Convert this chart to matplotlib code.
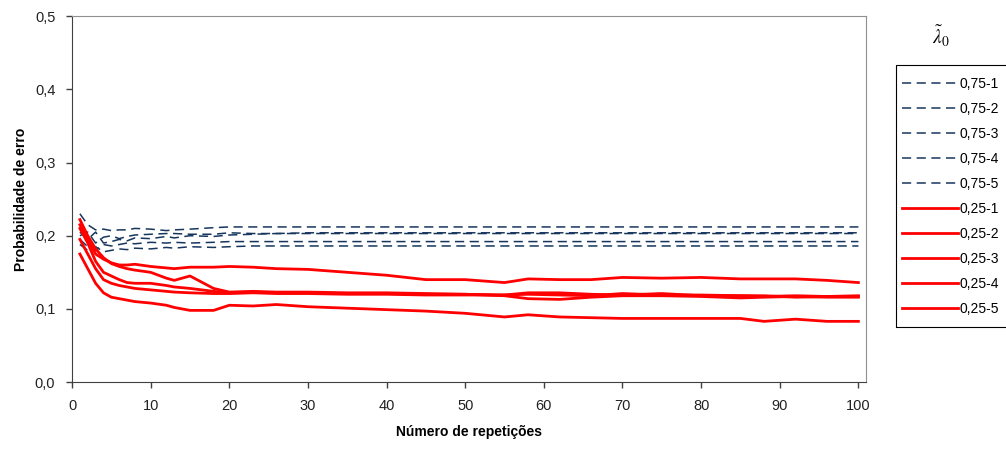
import matplotlib.pyplot as plt
from matplotlib.patches import Rectangle
from matplotlib.ticker import FuncFormatter

plt.rcParams['font.family'] = ['Liberation Sans', 'DejaVu Sans']

# DATA
# ############################################################################
REPS = [1, 2, 3, 4, 5, 6, 7, 8, 10, 12, 13, 15, 18, 20, 23, 26, 30, 35, 40,
        45, 50, 55, 58, 62, 66, 70, 75, 80, 85, 88, 92, 96, 100]

# lambda_0 = 0.75 (dashed)
L75_1 = [0.230, 0.215, 0.208, 0.209, 0.207, 0.208, 0.208, 0.210, 0.209,
         0.207, 0.208, 0.209, 0.211, 0.212, 0.212, 0.212, 0.212, 0.212,
         0.212, 0.212, 0.212, 0.212, 0.212, 0.212, 0.212, 0.212, 0.212,
         0.212, 0.212, 0.212, 0.212, 0.212, 0.212]
L75_2 = [0.205, 0.195, 0.205, 0.190, 0.192, 0.195, 0.193, 0.197, 0.196,
         0.199, 0.197, 0.200, 0.199, 0.201, 0.202, 0.203, 0.203, 0.203,
         0.203, 0.203, 0.203, 0.203, 0.203, 0.203, 0.203, 0.203, 0.203,
         0.203, 0.203, 0.203, 0.203, 0.203, 0.203]
L75_3 = [0.200, 0.205, 0.190, 0.198, 0.200, 0.196, 0.199, 0.201, 0.202,
         0.203, 0.203, 0.202, 0.202, 0.204, 0.203, 0.203, 0.204, 0.204,
         0.204, 0.204, 0.204, 0.204, 0.204, 0.204, 0.204, 0.204, 0.204,
         0.204, 0.204, 0.204, 0.204, 0.204, 0.204]
L75_4 = [0.195, 0.185, 0.180, 0.188, 0.186, 0.188, 0.190, 0.189, 0.191,
         0.190, 0.191, 0.190, 0.191, 0.192, 0.192, 0.192, 0.192, 0.192,
         0.192, 0.192, 0.192, 0.192, 0.192, 0.192, 0.192, 0.192, 0.192,
         0.192, 0.192, 0.192, 0.192, 0.192, 0.192]
L75_5 = [0.188, 0.180, 0.185, 0.178, 0.180, 0.182, 0.181, 0.183, 0.182,
         0.184, 0.183, 0.185, 0.184, 0.185, 0.186, 0.186, 0.186, 0.186,
         0.186, 0.186, 0.186, 0.186, 0.186, 0.186, 0.186, 0.186, 0.186,
         0.186, 0.186, 0.186, 0.186, 0.186, 0.186]

# lambda_0 = 0.25 (solid)
L25_1 = [0.215, 0.195, 0.175, 0.168, 0.163, 0.160, 0.160, 0.161, 0.158,
         0.156, 0.155, 0.157, 0.157, 0.158, 0.157, 0.155, 0.154, 0.150,
         0.146, 0.140, 0.140, 0.136, 0.141, 0.140, 0.140, 0.143, 0.142,
         0.143, 0.141, 0.141, 0.141, 0.139, 0.136]
L25_2 = [0.222, 0.200, 0.182, 0.170, 0.162, 0.158, 0.155, 0.153, 0.150,
         0.142, 0.139, 0.145, 0.128, 0.123, 0.124, 0.123, 0.123, 0.122,
         0.122, 0.121, 0.120, 0.119, 0.122, 0.122, 0.120, 0.119, 0.121,
         0.118, 0.118, 0.117, 0.118, 0.117, 0.118]
L25_3 = [0.210, 0.190, 0.165, 0.150, 0.145, 0.140, 0.136, 0.135, 0.135,
         0.132, 0.130, 0.128, 0.124, 0.122, 0.123, 0.122, 0.122, 0.121,
         0.121, 0.120, 0.120, 0.118, 0.114, 0.113, 0.116, 0.118, 0.118,
         0.117, 0.115, 0.116, 0.117, 0.116, 0.116]
L25_4 = [0.195, 0.175, 0.155, 0.140, 0.135, 0.132, 0.130, 0.128, 0.126,
         0.124, 0.123, 0.122, 0.121, 0.121, 0.122, 0.121, 0.121, 0.120,
         0.120, 0.119, 0.119, 0.119, 0.120, 0.119, 0.118, 0.121, 0.119,
         0.119, 0.118, 0.118, 0.116, 0.117, 0.117]
L25_5 = [0.175, 0.155, 0.135, 0.122, 0.116, 0.114, 0.112, 0.110, 0.108,
         0.105, 0.102, 0.098, 0.098, 0.105, 0.104, 0.106, 0.103, 0.101,
         0.099, 0.097, 0.094, 0.089, 0.092, 0.089, 0.088, 0.087, 0.087,
         0.087, 0.087, 0.083, 0.086, 0.083, 0.083]

SERIES_75 = [L75_1, L75_2, L75_3, L75_4, L75_5]
SERIES_25 = [L25_1, L25_2, L25_3, L25_4, L25_5]
LABELS_75 = ['0,75-1', '0,75-2', '0,75-3', '0,75-4', '0,75-5']
LABELS_25 = ['0,25-1', '0,25-2', '0,25-3', '0,25-4', '0,25-5']


# PLOT
# ############################################################################
def comma(val, pos):
    return f'{val:.1f}'.replace('.', ',')


def main() -> None:
    fig = plt.figure(figsize=(10.06, 4.49), dpi=100)
    ax = fig.add_axes([0.0716, 0.149, 0.7895, 0.815])

    for y, lab in zip(SERIES_75, LABELS_75):
        ax.plot(REPS, y, color='#17365d', lw=1.1, dashes=(6, 3.6), label=lab)
    for y, lab in zip(SERIES_25, LABELS_25):
        ax.plot(REPS, y, color='#ff0000', lw=2.0, label=lab)

    ax.set_xlim(0, 101)
    ax.set_ylim(0, 0.5)
    ax.set_xticks(range(0, 101, 10))
    ax.set_yticks([0, 0.1, 0.2, 0.3, 0.4, 0.5])
    ax.yaxis.set_major_formatter(FuncFormatter(comma))
    ax.tick_params(direction='out', length=4, width=1, color='#404040',
                   labelsize=10.5, labelcolor='#222222', pad=8)

    for side in ['left', 'bottom']:
        ax.spines[side].set_color('#404040')
    for side in ['top', 'right']:
        ax.spines[side].set_color('#909090')

    ax.set_xlabel('Número de repetições', fontsize=10, fontweight='bold',
                  labelpad=9)
    ax.set_ylabel('Probabilidade de erro', fontsize=10, fontweight='bold',
                  labelpad=5)

    # legend box runs off the right edge of the picture
    fig.patches.append(Rectangle((0.8907, 0.2717), 0.15, 0.584,
                                 transform=fig.transFigure, fill=False,
                                 edgecolor='#000000', lw=0.8))
    fig.legend(loc='upper left', bbox_to_anchor=(0.8966, 0.8285),
               fontsize=10, handlelength=4.0, handletextpad=0.15,
               labelspacing=0.79, borderpad=0, borderaxespad=0,
               frameon=False)

    fig.text(0.935, 0.92, r'$\tilde{\lambda}_0$', fontsize=14,
             math_fontfamily='stix', ha='center', va='center')

    fig.savefig('out.png', dpi=100)


if __name__ == "__main__":
    main()
